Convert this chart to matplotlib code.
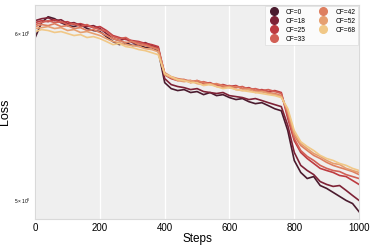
import matplotlib
matplotlib.use("Agg")
import matplotlib.pyplot as plt
import numpy as np
from matplotlib.lines import Line2D

plt.rcParams['font.family'] = ['Liberation Sans', 'DejaVu Sans']

# steps sampled every 20
steps = list(range(0, 1001, 20))

labels = ["CF=0", "CF=18", "CF=25", "CF=33", "CF=42", "CF=52", "CF=68"]
colors = ["#4a1b2e", "#7e2236", "#bd3a40", "#d25f55", "#de7f60", "#e69f70", "#f1c887"]

cf0 = [5.974, 6.072, 6.111, 6.098, 6.072, 6.052, 6.046, 6.059, 6.033, 6.020,
       6.013, 5.980, 5.948, 5.928, 5.941, 5.922, 5.928, 5.909, 5.909, 5.889,
       5.687, 5.650, 5.638, 5.644, 5.626, 5.632, 5.613, 5.626, 5.607, 5.613,
       5.595, 5.583, 5.589, 5.570, 5.558, 5.564, 5.546, 5.527, 5.515,
       5.397, 5.224, 5.156, 5.122, 5.133, 5.083, 5.067, 5.045, 5.023, 5.001, 4.984, 4.940]
cf18 = [6.085, 6.098, 6.104, 6.085, 6.091, 6.065, 6.072, 6.052, 6.046, 6.052,
        6.033, 6.000, 5.967, 5.954, 5.967, 5.941, 5.928, 5.941, 5.922, 5.909,
        5.712, 5.675, 5.663, 5.656, 5.644, 5.650, 5.632, 5.626, 5.620, 5.626,
        5.607, 5.601, 5.595, 5.583, 5.589, 5.577, 5.564, 5.552, 5.540,
        5.427, 5.270, 5.196, 5.167, 5.144, 5.105, 5.089, 5.078, 5.083, 5.056, 5.028, 5.001]
cf25 = [6.072, 6.085, 6.078, 6.091, 6.072, 6.078, 6.059, 6.065, 6.052, 6.039,
        6.046, 6.020, 5.987, 5.974, 5.961, 5.954, 5.948, 5.935, 5.928, 5.915,
        5.736, 5.712, 5.700, 5.706, 5.687, 5.700, 5.681, 5.687, 5.669, 5.675,
        5.663, 5.669, 5.650, 5.656, 5.638, 5.644, 5.632, 5.638, 5.626,
        5.469, 5.338, 5.270, 5.235, 5.207, 5.179, 5.167, 5.156, 5.139, 5.133, 5.111, 5.089]
cf33 = [6.059, 6.072, 6.085, 6.072, 6.078, 6.059, 6.065, 6.046, 6.059, 6.039,
        6.026, 6.013, 5.980, 5.967, 5.974, 5.948, 5.941, 5.928, 5.915, 5.902,
        5.743, 5.718, 5.706, 5.700, 5.700, 5.687, 5.693, 5.681, 5.675, 5.663,
        5.669, 5.656, 5.663, 5.644, 5.650, 5.638, 5.644, 5.632, 5.620,
        5.486, 5.350, 5.281, 5.247, 5.224, 5.196, 5.179, 5.167, 5.161, 5.144, 5.133, 5.122]
cf42 = [6.046, 6.059, 6.052, 6.065, 6.046, 6.052, 6.033, 6.039, 6.020, 6.026,
        6.007, 5.987, 5.967, 5.954, 5.941, 5.948, 5.928, 5.922, 5.909, 5.896,
        5.749, 5.724, 5.712, 5.706, 5.693, 5.700, 5.687, 5.675, 5.681, 5.669,
        5.656, 5.663, 5.650, 5.650, 5.638, 5.632, 5.626, 5.620, 5.607,
        5.504, 5.368, 5.310, 5.281, 5.253, 5.235, 5.213, 5.196, 5.184, 5.173, 5.161, 5.144]
cf52 = [6.033, 6.039, 6.046, 6.033, 6.039, 6.020, 6.026, 6.007, 6.013, 6.000,
        5.987, 5.967, 5.948, 5.941, 5.928, 5.922, 5.915, 5.902, 5.896, 5.882,
        5.736, 5.718, 5.700, 5.693, 5.700, 5.681, 5.675, 5.681, 5.663, 5.656,
        5.663, 5.644, 5.638, 5.644, 5.626, 5.632, 5.620, 5.613, 5.601,
        5.516, 5.380, 5.321, 5.292, 5.264, 5.247, 5.224, 5.207, 5.201, 5.179, 5.167, 5.156]
cf68 = [6.013, 6.026, 6.020, 6.007, 6.013, 6.000, 5.987, 5.993, 5.974, 5.980,
        5.967, 5.948, 5.928, 5.935, 5.915, 5.909, 5.896, 5.889, 5.876, 5.863,
        5.743, 5.724, 5.706, 5.700, 5.687, 5.687, 5.669, 5.675, 5.663, 5.650,
        5.656, 5.644, 5.638, 5.632, 5.626, 5.620, 5.613, 5.607, 5.595,
        5.528, 5.397, 5.332, 5.304, 5.281, 5.253, 5.235, 5.224, 5.207, 5.196, 5.179, 5.167]

series = [cf0, cf18, cf25, cf33, cf42, cf52, cf68]

fig = plt.figure(figsize=(3.74, 2.49), dpi=100)
ax = fig.add_axes([0.094, 0.12, 0.866, 0.86])
ax.set_facecolor("#efefef")

for ys, c in zip(series, colors):
    ax.plot(steps, ys, color=c, linewidth=1.2)

ax.set_yscale("log")
ax.set_ylim(4.90, 6.19)
ax.set_xlim(0, 1000)
ax.set_xticks([0, 200, 400, 600, 800, 1000])
ax.grid(axis="x", color="white", linewidth=0.9)
ax.grid(axis="y", which="both", visible=False)
ax.set_axisbelow(True)

for s in ax.spines.values():
    s.set_color("#d9d9d9")
    s.set_linewidth(0.8)

ax.tick_params(axis="x", length=0, labelsize=7, pad=3)
ax.tick_params(axis="y", which="both", length=0, labelsize=3.5, pad=3)
ax.set_xlabel("Steps", fontsize=8.5, labelpad=0)
ax.set_ylabel("Loss", fontsize=9)
ax.yaxis.set_label_coords(-0.075, 0.5)

handles = [Line2D([], [], marker="o", linestyle="none", color=c, markersize=5.5) for c in colors]
leg = ax.legend(handles, labels, loc="upper right", ncol=2, fontsize=4.8,
                frameon=True, fancybox=False, handletextpad=0.8,
                columnspacing=1.6, labelspacing=0.3, borderpad=0.4,
                borderaxespad=0.15)
leg.get_frame().set_edgecolor("#dddddd")
leg.get_frame().set_linewidth(0.6)

fig.savefig("out.png", dpi=100)
